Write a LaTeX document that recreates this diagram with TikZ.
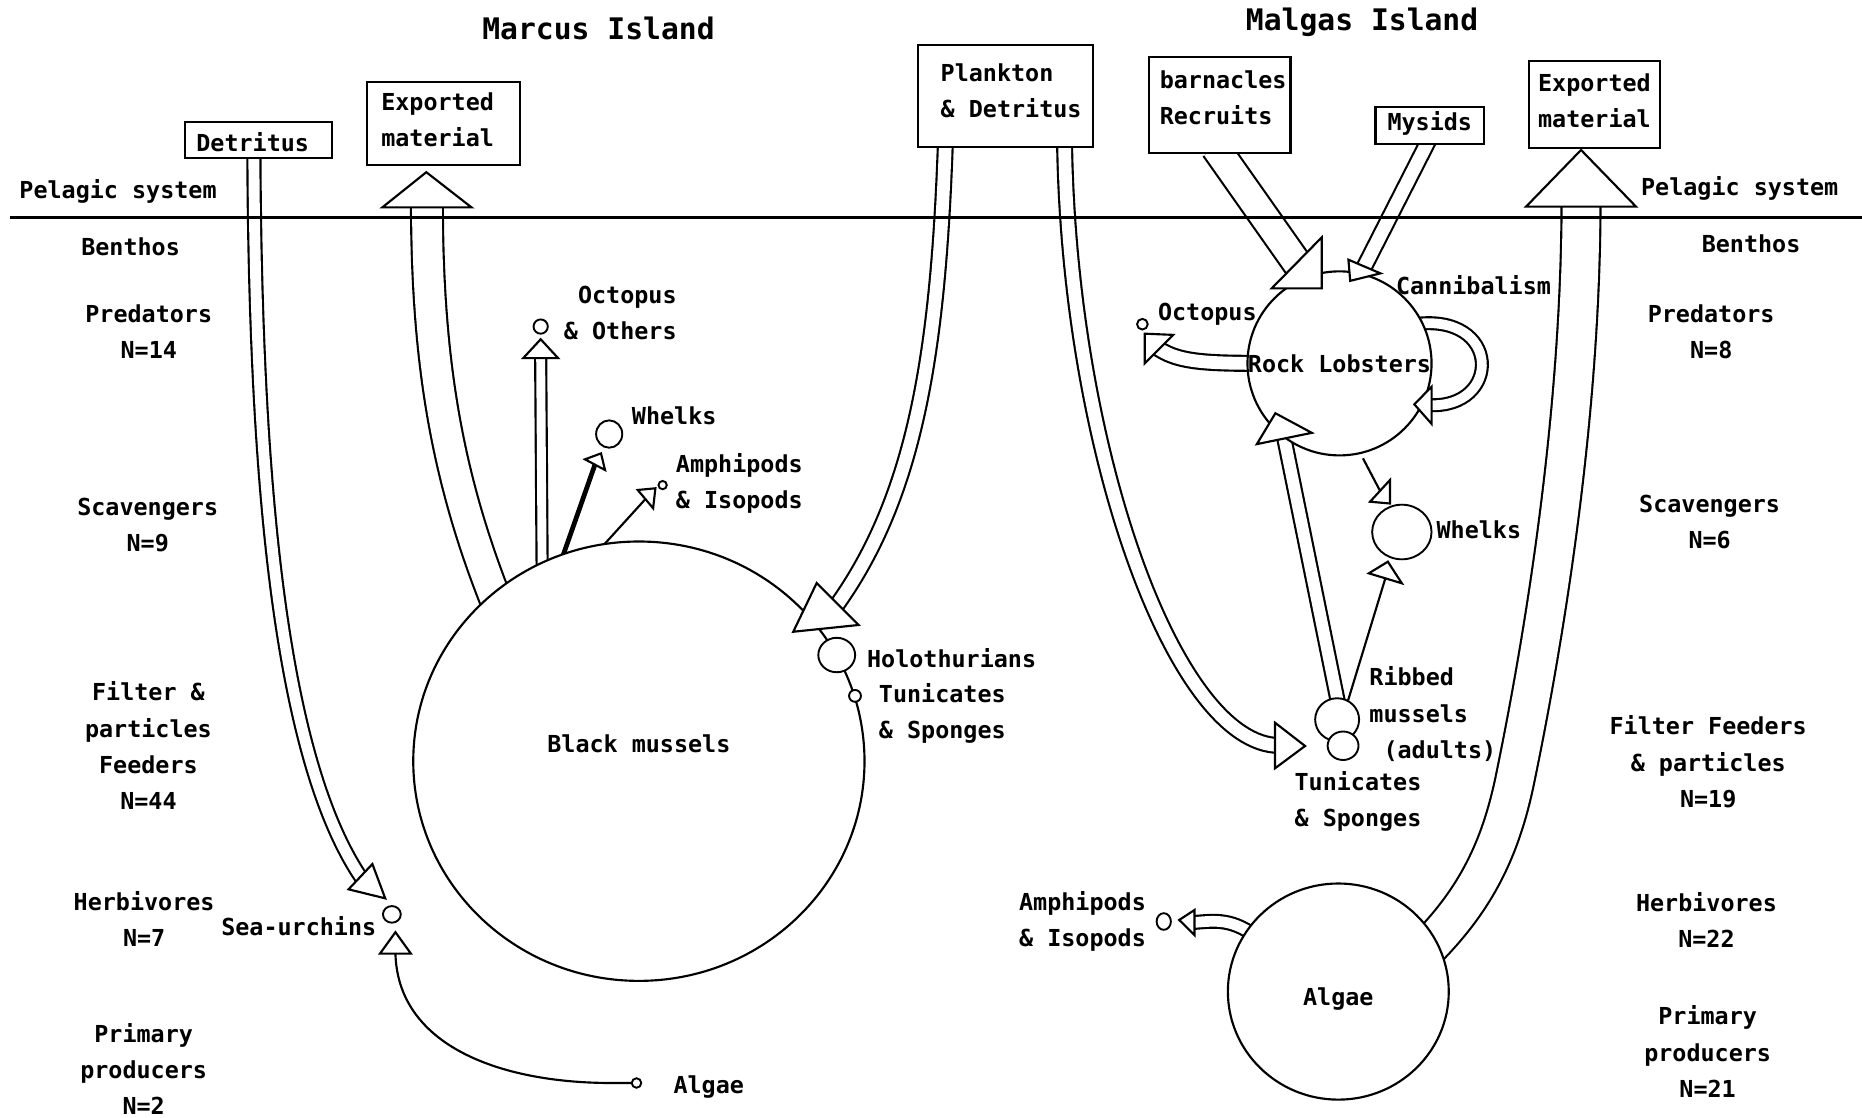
\documentclass[tikz,border=0pt]{standalone}
\usepackage{fontspec}
\newfontfamily\plotfont{DejaVu Sans Mono}
\usetikzlibrary{shapes.geometric,backgrounds}

\begin{document}
\begin{tikzpicture}[
  x=1pt, y=-1pt,
  lbl/.style={font=\plotfont\bfseries\fontsize{19.7}{30.5}\selectfont, inner sep=0pt, align=center},
  lblL/.style={lbl, align=left, anchor=west},
  lblR/.style={lbl, align=right, anchor=east},
  boxtext/.style={lbl, align=left},
  titletext/.style={font=\plotfont\bfseries\fontsize{25}{30}\selectfont, inner sep=0pt},
  box/.style={draw, line width=1.8pt, fill=white, inner sep=0pt, outer sep=0pt},
  big/.style={draw, ellipse, line width=1.8pt, fill=white, inner sep=0pt, outer sep=0pt},
  dot/.style={draw, ellipse, line width=1.6pt, fill=white, inner sep=0pt, outer sep=0pt},
  dshaft/.style={line width=1.8pt, double=white, double distance=#1},
  link/.style={line width=1.8pt},
  head/.style={draw, fill=white, line width=1.8pt, line join=miter},
]
\useasboundingbox (0,0) rectangle (1568,941);

% ---------- titles ----------
\node[titletext] (tM) at (504,24) {Marcus Island};
\node[titletext] (tG) at (1147,18.5) {Malgas Island};

% ---------- pelagic boxes ----------
\node[box, minimum width=124pt, minimum height=30.8pt,
      label={[boxtext, xshift=-5pt, yshift=-2pt]center:Detritus}] (det) at (217.8,117.9) {};
\node[box, minimum width=129pt, minimum height=70pt,
      label={[boxtext, xshift=-5pt, yshift=3pt]center:Exported\\material}] (expM) at (373.5,104) {};
\node[box, minimum width=147.5pt, minimum height=85.6pt,
      label={[boxtext, xshift=4.5pt, yshift=4pt]center:Plankton\\\& Detritus}] (plk) at (847,80.7) {};
\node[box, minimum width=119.5pt, minimum height=81.4pt,
      label={[boxtext, xshift=3pt, yshift=6pt]center:barnacles\\Recruits}] (brn) at (1027,88.4) {};
\node[box, minimum width=91.3pt, minimum height=31.5pt,
      label={[boxtext, yshift=1.5pt]center:Mysids}] (mys) at (1204,105.5) {};
\node[box, minimum width=110.9pt, minimum height=73.5pt,
      label={[boxtext, yshift=3pt]center:Exported\\material}] (expG) at (1342.7,88.1) {};

% ---------- large compartments ----------
\node[big, minimum width=380pt, minimum height=370pt,
      label={[lbl, yshift=15pt]center:Black mussels}] (bm) at (538,641) {};
\node[big, minimum width=155pt, minimum height=155pt,
      label={[lbl]center:Rock Lobsters}] (rl) at (1128,306) {};
\node[big, minimum width=186pt, minimum height=182pt,
      label={[lbl, yshift=-6pt]center:Algae}] (ag) at (1127,835) {};

% ---------- small compartments ----------
\node[dot, minimum width=12pt, minimum height=12pt] (octM) at (455.3,275) {};
\node[dot, minimum width=22pt, minimum height=23pt] (whM) at (513,365.5) {};
\node[dot, minimum width=7pt, minimum height=7pt] (amM) at (558,408.5) {};
\node[dot, minimum width=31pt, minimum height=29pt] (hol) at (704.6,551.6) {};
\node[dot, minimum width=10pt, minimum height=10pt] (tunM) at (720,586) {};
\node[dot, minimum width=15pt, minimum height=14pt] (su) at (330,770) {};
\node[dot, minimum width=8pt, minimum height=8pt] (alM) at (536,912) {};
\node[dot, minimum width=9pt, minimum height=9pt] (octG) at (962,273) {};
\node[dot, minimum width=50pt, minimum height=46pt] (whG) at (1180.5,448) {};
\node[dot, minimum width=37pt, minimum height=36pt] (rib) at (1126,606) {};
\node[dot, minimum width=26pt, minimum height=24pt] (tunG) at (1131,628) {};
\node[dot, minimum width=12pt, minimum height=14pt] (amG) at (980,776) {};

% ---------- side labels ----------
\node[lbl] (pelM) at (99.4,161) {Pelagic system};
\node[lbl] (benM) at (110,207.7) {Benthos};
\node[lbl] (predM) at (125.3,279.3) {Predators\\N=14};
\node[lbl] (scavM) at (124.4,442.1) {Scavengers\\N=9};
\node[lbl] (filtM) at (125,628) {Filter \&\\particles\\Feeders\\N=44};
\node[lbl] (herbM) at (121.4,774) {Herbivores\\N=7};
\node[lbl] (primM) at (121,900.3) {Primary\\producers\\N=2};

\node[lbl] (pelG) at (1465,158.6) {Pelagic system};
\node[lbl] (benG) at (1474.6,205) {Benthos};
\node[lbl] (predG) at (1441,279.3) {Predators\\N=8};
\node[lbl] (scavG) at (1439.7,439.3) {Scavengers\\N=6};
\node[lbl] (filtG) at (1438.5,641.5) {Filter Feeders\\\& particles\\N=19};
\node[lbl] (herbG) at (1437,775) {Herbivores\\N=22};
\node[lbl] (primG) at (1438,885.5) {Primary\\producers\\N=21};

% ---------- compartment names ----------
\node[lblR] (octMt) at (570,263.7) {Octopus\\\& Others};
\node[lblL] (whMt) at (532,350) {Whelks};
\node[lblL] (amMt) at (569,407) {Amphipods\\\& Isopods};
\node[lblL] (holt) at (730,554) {Holothurians};
\node[lblL] (tunMt) at (740,600.5) {Tunicates\\\& Sponges};
\node[lbl, anchor=east] (sut) at (317,780) {Sea-urchins};
\node[lblL] (alMt) at (567,915) {Algae};

\node[lbl] (canT) at (1240.8,240) {Cannibalism};
\node[lblL] (octGt) at (975,265) {Octopus};
\node[lblL] (whGt) at (1209.6,446.3) {Whelks};
\node[lblL] (ribt) at (1153,601.3) {Ribbed\\mussels\\~(adults)};
\node[lblL] (tunGt) at (1090,675) {Tunicates\\\& Sponges};
\node[lblL] (amGt) at (858,776) {Amphipods\\\& Isopods};

% ---------- arrow-head bases ----------
\coordinate (bExpM) at (359.5,174.6);
\coordinate (bOctM) at (455.3,301.6);
\coordinate (bWhM) at (501,391.3);
\coordinate (bAmM) at (543.5,420.3);
\coordinate (bPlkM) at (705.3,508.7);
\coordinate (bDet) at (303.5,738.2);
\coordinate (bAlM) at (333,803);
\coordinate (bPlkG) at (1073.7,627.8);
\coordinate (bRibRL) at (1081.5,369.2);
\coordinate (bRibWh) at (1166.6,487);
\coordinate (bRLWh) at (1162.1,413.3);
\coordinate (bBrn) at (1092,221.4);
\coordinate (bMys) at (1149,224.5);
\coordinate (bCan) at (1205.6,341.3);
\coordinate (bOctG) at (976,294);
\coordinate (bExpG) at (1331.4,174);
\coordinate (bAmG) at (1005.9,776.8);

% ---------- flows (behind the compartments) ----------
\begin{scope}[on background layer]
  \fill[white] (0,0) rectangle (1568,941);
  % Marcus Island
  \draw[dshaft=9.2pt, shorten <=-5pt, shorten >=-4pt]
    ([xshift=-4pt]det.south) .. controls (215,400) and (235,640) .. (bDet);
  \draw[dshaft=25pt, shorten <=-12pt, shorten >=-6pt]
    (bm.131) .. controls (375,400) and (359.5,300) .. (bExpM);
  \draw[dshaft=7.5pt, shorten <=-10pt, shorten >=-4pt] (bm.116.5) -- (bOctM);
  \draw[line width=4pt, shorten <=-8pt] (bm.110.5) -- (bWhM);
  \draw[link, shorten <=-8pt] (bm.99.7) -- (bAmM);
  \draw[dshaft=10.7pt, shorten <=-5pt, shorten >=-5pt]
    ([xshift=-51pt]plk.south) .. controls (790,300) and (770,420) .. (bPlkM);
  \draw[link] (alM.west) -- (515,912) .. controls (420,912) and (335,880) .. (bAlM);
  % Malgas Island
  \draw[dshaft=10.7pt, shorten <=-5pt, shorten >=-4pt]
    ([xshift=49.5pt]plk.south) .. controls (900,380) and (990,628) .. (bPlkG);
  \draw[dshaft=10pt, shorten <=-8pt, shorten >=-4pt] (rib.north) -- (bRibRL);
  \draw[link, shorten <=-6pt] (rib.60) -- (bRibWh);
  \draw[link, shorten <=5pt] (rl.-77) -- (bRLWh);
  \draw[dshaft=23pt, shorten <=-6pt, shorten >=-6pt] (brn.south) -- (bBrn);
  \draw[dshaft=11pt, shorten <=-5pt, shorten >=-4pt] ([xshift=-2.5pt]mys.south) -- (bMys);
  \draw[dshaft=8.2pt, shorten <=-8pt, shorten >=-3pt]
    (rl.26) .. controls (1265,262) and (1265,345) .. (bCan);
  \draw[dshaft=10.8pt, shorten <=-8pt, shorten >=-3pt]
    (rl.180) .. controls (1010,306) and (990,304) .. (bOctG);
  \draw[dshaft=31pt, shorten <=-12pt, shorten >=-6pt]
    (ag.28.2) .. controls (1240,760) and (1262,720) .. (1275,660)
              .. controls (1300,540) and (1331.4,350) .. (bExpG);
  \draw[dshaft=9pt, shorten <=-8pt, shorten >=-3pt]
    (ag.146.5) .. controls (1035,772) and (1020,776) .. (bAmG);
\end{scope}

% ---------- pelagic / benthic boundary ----------
\coordinate (seaL) at (8.3,183);
\coordinate (seaR) at (1568,183);
\draw[line width=2.2pt] (seaL) -- (seaR);

% ---------- arrow heads ----------
\draw[head] (359,145) -- (322,174.6) -- (397,174.6) -- cycle;
\draw[head] (455.3,285.7) -- (440.6,301.6) -- (470,301.6) -- cycle;
\draw[head] (506.1,381.8) -- (492.6,386.8) -- (509.5,395.8) -- cycle;
\draw[head] (551.9,411.2) -- (537,412.6) -- (550,428) -- cycle;
\draw[head] (668,532) -- (687.7,491) -- (723,526.3) -- cycle;
\draw[head] (324.4,756.5) -- (313.6,727.6) -- (293.5,748.9) -- cycle;
\draw[head] (333,785) -- (320,803) -- (346,803) -- cycle;
\draw[head] (1099,628.2) -- (1073.7,608.6) -- (1073.7,647) -- cycle;
\draw[head] (1074,348) -- (1104.7,364.5) -- (1058.4,374) -- cycle;
\draw[head] (1168.7,473) -- (1152.7,482.8) -- (1180.5,491.2) -- cycle;
\draw[head] (1170.5,424) -- (1170.5,404.2) -- (1153.7,422.5) -- cycle;
\draw[head] (1113,242.8) -- (1113,199.9) -- (1070.9,242.8) -- cycle;
\draw[head] (1137,236.5) -- (1135.5,218.7) -- (1162.5,230.2) -- cycle;
\draw[head] (1191,340.5) -- (1205.6,325.6) -- (1205.6,357) -- cycle;
\draw[head] (964,281) -- (988,282) -- (964,306) -- cycle;
\draw[head] (1331.4,126.3) -- (1285.1,174) -- (1377.7,174) -- cycle;
\draw[head] (993,774.7) -- (1005.9,766.3) -- (1005.9,787.4) -- cycle;
\end{tikzpicture}
\end{document}
